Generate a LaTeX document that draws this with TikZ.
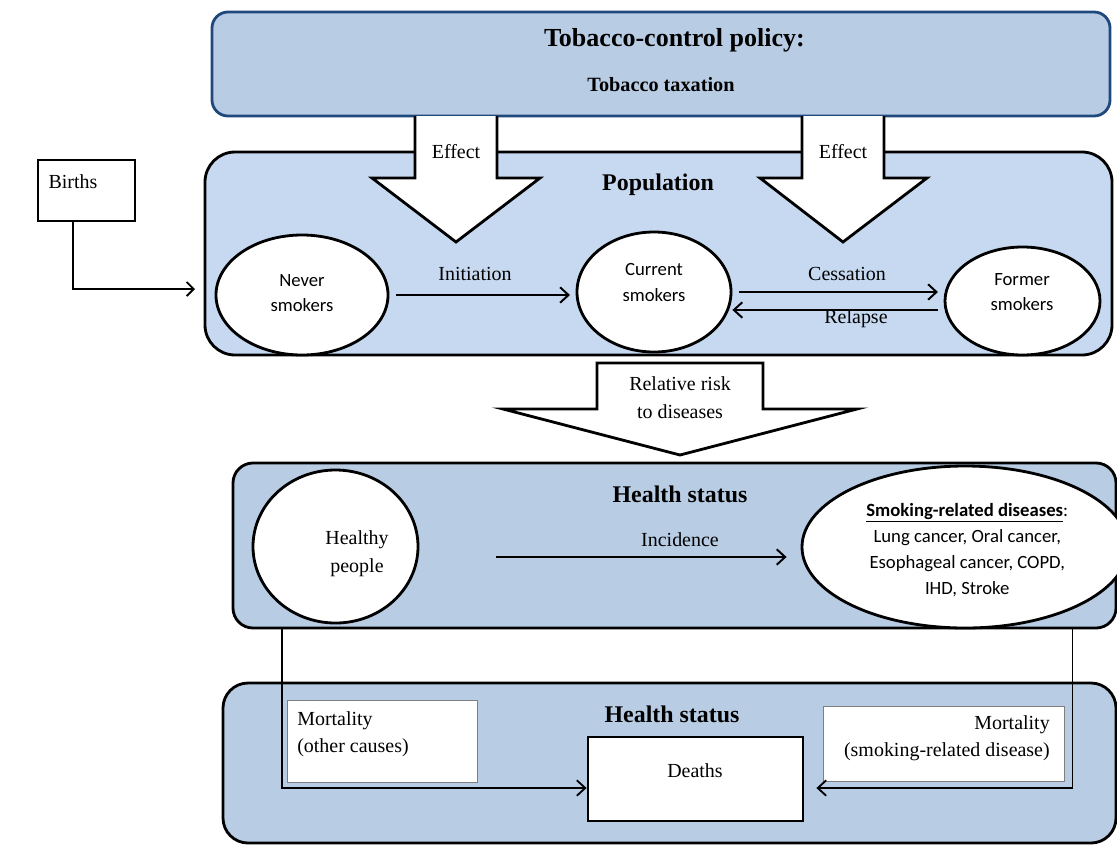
\documentclass[tikz,border=0pt]{standalone}
\usepackage{fontspec}
\setmainfont{Liberation Serif}
\newfontfamily\calib{Carlito}
\usetikzlibrary{arrows.meta,shapes.geometric,positioning}

\definecolor{policyfill}{HTML}{B8CCE4}
\definecolor{policyline}{HTML}{1F497D}
\definecolor{popfill}{HTML}{C6D9F0}
\definecolor{healthfill}{HTML}{B8CCE4}
\definecolor{mortline}{HTML}{7F7F7F}

\tikzset{
  body/.style={font=\fontsize{14.2}{19.5}\selectfont, align=center, inner sep=0pt},
  heading/.style={font=\fontsize{17}{20}\selectfont\bfseries, inner sep=0pt},
  smokertext/.style={font=\calib\fontsize{13.3}{18.4}\selectfont, align=center, inner sep=0pt},
  panel/.style={draw=black, line width=2pt, rounded corners=0.6cm, inner sep=0pt},
  smoker/.style={ellipse, draw, line width=2pt, fill=white, inner sep=0pt},
  mortbox/.style={draw=mortline, line width=0.6pt, fill=white, inner sep=0pt},
  bigarrow/.style={draw, fill=white, line width=2pt, line join=miter},
  flow/.style={line width=1.4pt, -{Straight Barb[length=6pt,width=11pt]}},
  entry/.style={line width=1.3pt, -{Straight Barb[length=5pt,width=10pt]}},
  death/.style={line width=1.3pt, -{Straight Barb[length=6pt,width=11pt]}}
}

\begin{document}
\begin{tikzpicture}
    \useasboundingbox (0,0) rectangle (27.925,-21.125);

    \node[panel, draw=policyline, fill=policyfill, rounded corners=0.4cm, minimum width=22.45cm, minimum height=2.6cm] (policy) at (16.525,-1.6) {};
    \node[font=\fontsize{18.5}{22}\selectfont\bfseries, inner sep=0pt] (policytitle) at (16.86,-1.0) {Tobacco-control policy:};
    \node[font=\fontsize{14.4}{17}\selectfont\bfseries, inner sep=0pt] (taxation) at (16.525,-2.125) {Tobacco taxation};

    \node[panel, fill=popfill, rounded corners=0.75cm, minimum width=22.675cm, minimum height=5.075cm] (population) at (16.4625,-6.3375) {};
    \node[heading] (poptitle) at (16.45,-4.625) {Population};

    \filldraw[bigarrow] (10.375,-2.9) -- (10.375,-4.45) -- (9.3,-4.45) -- (11.4,-6.05) -- (13.5,-4.45) -- (12.425,-4.45) -- (12.425,-2.9);
    \filldraw[bigarrow] (20.05,-2.9) -- (20.05,-4.45) -- (19.0,-4.45) -- (21.075,-6.05) -- (23.175,-4.45) -- (22.1,-4.45) -- (22.1,-2.9);
    \node[body] (effectleft) at (11.4,-3.8) {Effect};
    \node[body] (effectright) at (21.075,-3.8) {Effect};

    \node[draw, line width=2pt, fill=white, minimum width=2.425cm, minimum height=1.525cm] (births) at (2.1625,-4.7625) {};
    \node[body] (birthstext) at (1.825,-4.55) {Births};
    \coordinate (popentry) at (4.875,-7.225);
    \draw[entry] ([xshift=-0.3375cm]births.south) |- (popentry);

    \node[smoker, minimum width=4.3cm, minimum height=3cm] (never) at (7.55,-7.375) {};
    \node[smokertext] (nevertext) at (7.55,-7.325) {Never\\smokers};
    \node[smoker, minimum width=3.85cm, minimum height=3cm] (current) at (16.35,-7.3) {};
    \node[smokertext] (currenttext) at (16.35,-7.06) {Current\\smokers};
    \node[smoker, minimum width=3.875cm, minimum height=2.7cm] (former) at (25.5625,-7.525) {};
    \node[smokertext] (formertext) at (25.55,-7.3) {Former\\smokers};

    \draw[flow, shorten <=5pt, shorten >=4pt] (never.east) -- (never.east -| current.west);
    \node[body] (initiation) at (11.875,-6.85) {Initiation};
    \draw[flow] ([xshift=5pt]current.east) -- ([xshift=-4pt]current.east -| former.west);
    \node[body] (cessation) at (21.175,-6.85) {Cessation};
    \draw[flow] ([xshift=-4pt,yshift=-0.45cm]current.east -| former.west) -- ([yshift=-0.45cm]current.east);
    \node[body] (relapse) at (21.4,-7.975) {Relapse};

    \draw[bigarrow] (14.925,-9.075) -- (19.075,-9.075) -- (19.075,-10.225) -- (21.425,-10.225) -- (17,-11.375) -- (12.575,-10.225) -- (14.925,-10.225) -- cycle;
    \node[body] (risk) at (17,-9.94) {Relative risk\\to diseases};

    \node[panel, fill=healthfill, rounded corners=0.5cm, minimum width=22.075cm, minimum height=4.125cm] (statusone) at (16.8625,-13.6375) {};
    \node[heading] (statusonetitle) at (17,-12.35) {Health status};
    \node[smoker, minimum width=4.125cm, minimum height=3.825cm] (healthy) at (8.3875,-13.6625) {};
    \node[body] (healthytext) at (8.925,-13.84) {Healthy\\people};
    \node[smoker, minimum width=8.15cm, minimum height=4.05cm] (smoking) at (24.125,-13.675) {};
    \node[smokertext] (smokingtext) at (24.18,-13.75) {\underline{\textbf{Smoking-related diseases}}:\\Lung cancer, Oral cancer,\\Esophageal cancer, COPD,\\IHD, Stroke};
    \draw[flow] ([xshift=1.925cm,yshift=-0.2625cm]healthy.east) -- ([xshift=-0.35cm,yshift=-0.2625cm]healthy.east -| smoking.west);
    \node[body] (incidence) at (17,-13.5) {Incidence};

    \node[panel, fill=healthfill, rounded corners=0.625cm, minimum width=22.325cm, minimum height=4cm] (statustwo) at (16.7375,-19.075) {};
    \node[heading] (statustwotitle) at (16.8,-17.85) {Health status};
    \node[mortbox, minimum width=4.75cm, minimum height=2.05cm] (mortother) at (9.55,-18.525) {};
    \node[body, align=left, anchor=west] (mortothertext) at (7.425,-18.35) {Mortality\\(other causes)};
    \node[mortbox, minimum width=6.025cm, minimum height=1.875cm] (mortsmoke) at (23.5875,-18.5875) {};
    \node[body, align=right, anchor=east] (mortsmoketext) at (26.25,-18.46) {Mortality\\(smoking-related disease)};
    \node[draw, line width=2pt, fill=white, minimum width=5.375cm, minimum height=2.1cm] (deaths) at (17.3875,-19.475) {};
    \node[body] (deathstext) at (17.375,-19.275) {Deaths};

    \draw[death] ([xshift=1.25cm]statusone.south west) |- ([yshift=-0.225cm]deaths.west);
    \draw[death] ([xshift=-1.125cm]statusone.south east) |- ([xshift=0.3cm,yshift=-0.225cm]deaths.east);
\end{tikzpicture}
\end{document}
